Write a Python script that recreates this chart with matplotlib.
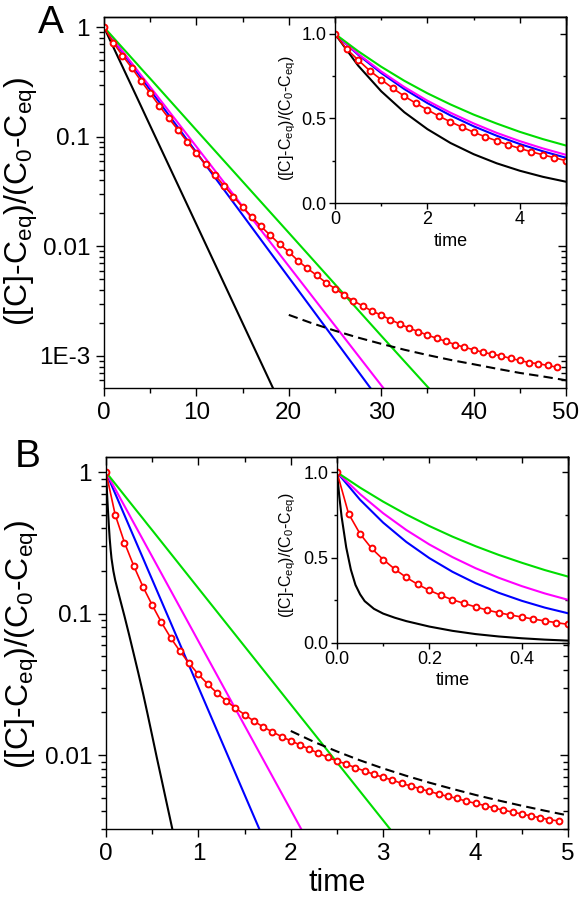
import numpy as np
import matplotlib
matplotlib.use("Agg")
import matplotlib.pyplot as plt
from matplotlib.ticker import MultipleLocator, LogLocator, NullFormatter

plt.rcParams['font.family'] = ['Liberation Sans', 'DejaVu Sans']
plt.rcParams['mathtext.default'] = 'regular'
plt.rcParams['axes.linewidth'] = 1.0

# ---- panel A data ----
t_a = [0, 0.5, 1, 1.5, 2, 2.5, 3, 3.5, 4, 4.5, 5, 10, 20, 30, 40]
black_a = [1, 0.813, 0.661, 0.537, 0.437, 0.355, 0.289, 0.235, 0.191, 0.155, 0.126, 0.0159, 2.5e-4, 4e-6, 6.3e-8]
blue_a = [1, 0.877, 0.769, 0.674, 0.591, 0.518, 0.454, 0.398, 0.349, 0.306, 0.268, 0.0721, 0.0052, 3.75e-4, 2.7e-5]
magenta_a = [1, 0.882, 0.778, 0.686, 0.605, 0.534, 0.471, 0.415, 0.366, 0.323, 0.285, 0.0813, 0.0066, 5.4e-4, 4.4e-5]
green_a = [1, 0.898, 0.806, 0.723, 0.649, 0.583, 0.523, 0.470, 0.421, 0.378, 0.340, 0.115, 0.0133, 0.00153, 1.8e-4]

t_red_a = list(range(50))
red_a = [1.0, 0.724, 0.552, 0.427, 0.325, 0.25, 0.191, 0.148, 0.116, 0.0905,
         0.0709, 0.056, 0.0447, 0.0357, 0.0285, 0.0228, 0.0186, 0.0152, 0.0126, 0.0105,
         0.0089, 0.0074, 0.0063, 0.00546, 0.00468, 0.00412, 0.00359, 0.00318, 0.00286, 0.00257,
         0.00236, 0.00214, 0.00196, 0.0018, 0.00167, 0.00155, 0.00145, 0.00136, 0.00127, 0.0012,
         0.00114, 0.00108, 0.00104, 0.001, 0.00095, 0.00091, 0.00087, 0.00085, 0.00082, 0.00079]

t_red_a_in = [0, 0.25, 0.5, 0.75, 1, 1.25, 1.5, 1.75, 2, 2.25, 2.5, 2.75, 3, 3.25, 3.5, 3.75, 4, 4.25, 4.5, 4.75, 5]
red_a_in = [1.0, 0.911, 0.846, 0.783, 0.73, 0.679, 0.632, 0.59, 0.551, 0.514, 0.48,
            0.449, 0.419, 0.392, 0.368, 0.344, 0.323, 0.303, 0.285, 0.268, 0.25]

t_dash_a = [20, 22.5, 25, 27.5, 30, 32.5, 35, 37.5, 40, 42.5, 45, 47.5, 50]
dash_a = [0.00237, 0.00199, 0.0017, 0.00147, 0.00129, 0.00114, 0.00102, 0.00092,
          0.00084, 0.000765, 0.0007, 0.00065, 0.0006]

# ---- panel B data ----
t_b = [0, 0.05, 0.1, 0.15, 0.2, 0.25, 0.3, 0.35, 0.4, 0.45, 0.5, 1, 2, 3, 4]
green_b = [1, 0.910, 0.828, 0.753, 0.685, 0.623, 0.567, 0.516, 0.470, 0.427, 0.389, 0.151, 0.0228, 0.00345, 5.2e-4]
magenta_b = [1, 0.872, 0.760, 0.662, 0.577, 0.503, 0.438, 0.382, 0.333, 0.290, 0.253, 0.0639, 0.00409, 2.6e-4, 1.7e-5]
blue_b = [1, 0.839, 0.705, 0.592, 0.497, 0.417, 0.350, 0.294, 0.247, 0.207, 0.174, 0.0302, 9.1e-4, 2.8e-5, 8e-7]

t_black_b = [0, 0.005, 0.01, 0.02, 0.03, 0.04, 0.05, 0.06, 0.08, 0.1, 0.125, 0.15, 0.2,
             0.25, 0.3, 0.35, 0.4, 0.45, 0.5, 0.55, 0.6, 0.65, 0.7, 0.75, 0.8]
black_b = [1, 0.86, 0.74, 0.56, 0.43, 0.34, 0.285, 0.245, 0.2, 0.172, 0.148, 0.128, 0.096,
           0.071, 0.052, 0.038, 0.0275, 0.0195, 0.0137, 0.0096, 0.0068, 0.0048, 0.0034, 0.0024, 0.0017]

t_red_b = [i / 10 for i in range(50)]
red_b = [1.0, 0.499, 0.318, 0.218, 0.155, 0.115, 0.0867, 0.0675, 0.0543, 0.0445,
         0.0372, 0.0318, 0.0275, 0.0242, 0.0215, 0.0193, 0.0174, 0.0158, 0.0146, 0.0135,
         0.0126, 0.0118, 0.011, 0.0103, 0.00964, 0.00908, 0.00864, 0.00813, 0.00771, 0.0073,
         0.00695, 0.00665, 0.0063, 0.00604, 0.00578, 0.00553, 0.0053, 0.0051, 0.00494, 0.00471,
         0.00456, 0.00439, 0.00422, 0.00408, 0.00395, 0.00383, 0.00371, 0.0036, 0.00349, 0.00342]

t_red_b_in = [i * 0.025 for i in range(21)]
red_b_in = [1.0, 0.758, 0.639, 0.554, 0.489, 0.433, 0.384, 0.343, 0.308, 0.279, 0.253,
            0.232, 0.211, 0.193, 0.177, 0.164, 0.152, 0.14, 0.129, 0.119, 0.109]

t_dash_b = [2, 2.25, 2.5, 2.75, 3, 3.25, 3.5, 3.75, 4, 4.25, 4.5, 4.75, 5]
dash_b = [0.0148, 0.0124, 0.0106, 0.00917, 0.00804, 0.00713, 0.00638, 0.00576,
          0.00522, 0.00477, 0.00438, 0.00404, 0.00374]

GREEN = '#00dd00'
MAGENTA = '#ff00ff'
BLUE = '#0000ff'
RED = '#ff0000'
LW = 1.5
YLAB = '([C]-C$_{eq}$)/(C$_0$-C$_{eq}$)'


def draw_lines(ax, t, black, blue, magenta, green, tb=None):
    ax.plot(t if tb is None else tb, black, color='k', lw=LW)
    ax.plot(t, blue, color=BLUE, lw=LW)
    ax.plot(t, magenta, color=MAGENTA, lw=LW)
    ax.plot(t, green, color=GREEN, lw=LW)


def draw_red(ax, t, y, ms):
    ax.plot(t, y, color=RED, lw=1.2, marker='o', ms=ms, mfc='white', mec=RED, mew=1.4)


def mirror(ax, xmaj, xmin, ymaj, ymin, log_y, maj_len, min_len):
    # outward ticks on left/bottom, inward mirrored ticks on top/right
    ax.tick_params(which='both', direction='out', top=False, right=False, width=1)
    ax.tick_params(which='major', length=maj_len)
    ax.tick_params(which='minor', length=min_len)
    top = ax.secondary_xaxis('top')
    top.xaxis.set_major_locator(MultipleLocator(xmaj))
    top.xaxis.set_minor_locator(MultipleLocator(xmin))
    top.tick_params(which='both', direction='in', labeltop=False, width=1)
    top.tick_params(which='major', length=maj_len)
    top.tick_params(which='minor', length=min_len)
    right = ax.secondary_yaxis('right')
    if log_y:
        right.yaxis.set_major_locator(LogLocator(base=10))
        right.yaxis.set_minor_locator(LogLocator(base=10, subs=np.arange(2, 10)))
        right.yaxis.set_minor_formatter(NullFormatter())
    else:
        right.yaxis.set_major_locator(MultipleLocator(ymaj))
        right.yaxis.set_minor_locator(MultipleLocator(ymin))
    right.tick_params(which='both', direction='in', labelright=False, width=1)
    right.tick_params(which='major', length=maj_len)
    right.tick_params(which='minor', length=min_len)


fig = plt.figure(figsize=(5.82, 9.0), dpi=100)

# ---------------- Panel A ----------------
axA = fig.add_axes([0.1787, 0.5689, 0.7938, 0.4122])
draw_lines(axA, t_a, black_a, blue_a, magenta_a, green_a)
axA.plot(t_dash_a, dash_a, color='k', lw=LW, dashes=(4.5, 2.5))
draw_red(axA, t_red_a, red_a, 4.2)
axA.set_yscale('log')
axA.set_xlim(0, 50)
axA.set_ylim(5.1e-4, 1.24)
axA.set_yticks([1, 0.1, 0.01, 0.001], ['1', '0.1', '0.01', '1E-3'])
axA.yaxis.set_minor_locator(LogLocator(base=10, subs=np.arange(2, 10)))
axA.yaxis.set_minor_formatter(NullFormatter())
axA.xaxis.set_major_locator(MultipleLocator(10))
axA.xaxis.set_minor_locator(MultipleLocator(5))
axA.tick_params(labelsize=17.5, pad=4)
mirror(axA, 10, 5, None, None, True, 6, 3.5)
fig.text(21 / 582, 1 - 202 / 900, YLAB, rotation=90, ha='center', va='center', fontsize=23)
fig.text(0.065, 1 - 33 / 900, 'A', fontsize=28, ha='left', va='baseline')

# inset A
inA = fig.add_axes([0.5756, 0.7744, 0.3969, 0.2067])
draw_lines(inA, t_a, black_a, blue_a, magenta_a, green_a)
draw_red(inA, t_red_a_in, red_a_in, 4.2)
inA.set_xlim(0, 5)
inA.set_ylim(0, 1.1)
inA.xaxis.set_major_locator(MultipleLocator(2))
inA.xaxis.set_minor_locator(MultipleLocator(1))
inA.yaxis.set_major_locator(MultipleLocator(0.5))
inA.yaxis.set_minor_locator(MultipleLocator(0.25))
inA.yaxis.set_major_formatter(lambda v, p: f'{v:.1f}')
inA.tick_params(labelsize=13, pad=2)
mirror(inA, 2, 1, 0.5, 0.25, False, 4, 2.5)
inA.set_xlabel('time', fontsize=13, labelpad=3)
fig.text(288 / 582, 1 - 118 / 900, YLAB, rotation=90, ha='center', va='center', fontsize=11.5)

# ---------------- Panel B ----------------
axB = fig.add_axes([0.1821, 0.0789, 0.7938, 0.4133])
draw_lines(axB, t_b, black_b, blue_b, magenta_b, green_b, tb=t_black_b)
axB.plot(t_dash_b, dash_b, color='k', lw=LW, dashes=(4.5, 2.5))
draw_red(axB, t_red_b, red_b, 4.2)
axB.set_yscale('log')
axB.set_xlim(0, 5)
axB.set_ylim(0.003, 1.28)
axB.set_yticks([1, 0.1, 0.01], ['1', '0.1', '0.01'])
axB.yaxis.set_minor_locator(LogLocator(base=10, subs=np.arange(2, 10)))
axB.yaxis.set_minor_formatter(NullFormatter())
axB.xaxis.set_major_locator(MultipleLocator(1))
axB.xaxis.set_minor_locator(MultipleLocator(0.5))
axB.tick_params(labelsize=17.5, pad=4)
mirror(axB, 1, 0.5, None, None, True, 6, 3.5)
axB.set_xlabel('time', fontsize=22, labelpad=2)
fig.text(22 / 582, 1 - 645 / 900, YLAB, rotation=90, ha='center', va='center', fontsize=23)
fig.text(0.026, 1 - 467 / 900, 'B', fontsize=28, ha='left', va='baseline')

# inset B
inB = fig.add_axes([0.5790, 0.2856, 0.3969, 0.2067])
draw_lines(inB, t_b, black_b, blue_b, magenta_b, green_b, tb=t_black_b)
draw_red(inB, t_red_b_in, red_b_in, 4.2)
inB.set_xlim(0, 0.5)
inB.set_ylim(0, 1.09)
inB.xaxis.set_major_locator(MultipleLocator(0.2))
inB.xaxis.set_minor_locator(MultipleLocator(0.1))
inB.xaxis.set_major_formatter(lambda v, p: f'{v:.1f}')
inB.yaxis.set_major_locator(MultipleLocator(0.5))
inB.yaxis.set_minor_locator(MultipleLocator(0.25))
inB.yaxis.set_major_formatter(lambda v, p: f'{v:.1f}')
inB.tick_params(labelsize=13, pad=2)
mirror(inB, 0.2, 0.1, 0.5, 0.25, False, 4, 2.5)
inB.set_xlabel('time', fontsize=13, labelpad=3)
fig.text(288 / 582, 1 - 555 / 900, YLAB, rotation=90, ha='center', va='center', fontsize=11.5)

fig.savefig('out.png', dpi=100)
